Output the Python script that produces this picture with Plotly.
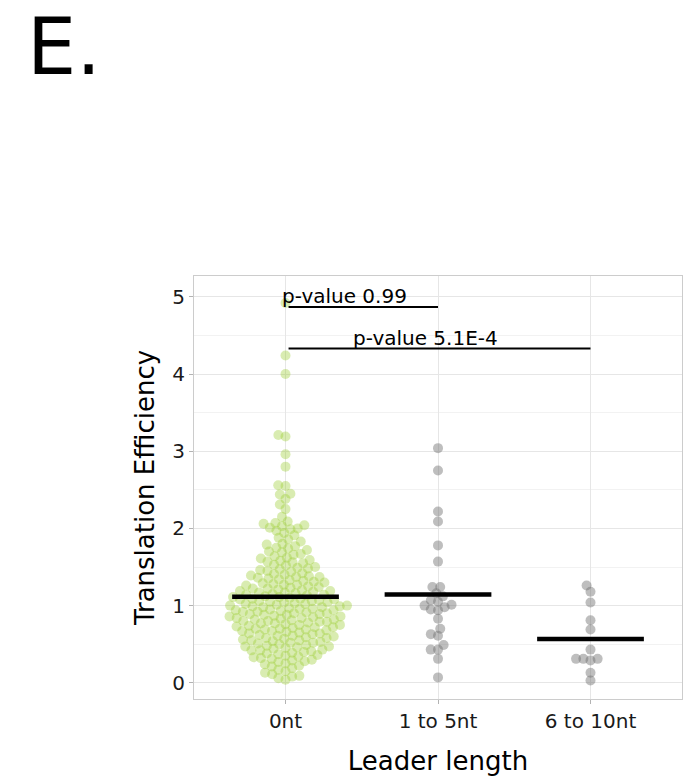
import numpy as np
import plotly.graph_objects as go

# Leader-length groups and their translation efficiency values
categories = ["0nt", "1 to 5nt", "6 to 10nt"]

te_0nt = [
    0.04, 0.06, 0.08, 0.09,
    0.11, 0.13, 0.15, 0.17, 0.19,
    0.21, 0.22, 0.24, 0.25, 0.27, 0.28, 0.29,
    0.30, 0.31, 0.32, 0.33, 0.34, 0.35, 0.36, 0.37, 0.38, 0.39,
    0.40, 0.41, 0.42, 0.42, 0.43, 0.44, 0.45, 0.46, 0.47, 0.47, 0.48, 0.49,
    0.50, 0.51, 0.52, 0.52, 0.53, 0.54, 0.55, 0.55, 0.56, 0.57, 0.58, 0.58, 0.59,
    0.60, 0.61, 0.61, 0.62, 0.63, 0.64, 0.64, 0.65, 0.66, 0.67, 0.67, 0.68, 0.69, 0.69,
    0.70, 0.70, 0.71, 0.72, 0.72, 0.73, 0.74, 0.75, 0.75, 0.76, 0.77, 0.77, 0.78, 0.79, 0.79,
    0.80, 0.80, 0.81, 0.82, 0.82, 0.83, 0.84, 0.84, 0.85, 0.86, 0.86, 0.87, 0.88, 0.88, 0.89, 0.89,
    0.90, 0.90, 0.91, 0.92, 0.92, 0.93, 0.94, 0.94, 0.95, 0.96, 0.96, 0.97, 0.98, 0.98, 0.99, 0.99,
    1.00, 1.00, 1.01, 1.02, 1.02, 1.03, 1.04, 1.04, 1.05, 1.06, 1.06, 1.07, 1.08, 1.08, 1.09, 1.09,
    1.10, 1.11, 1.11, 1.12, 1.13, 1.14, 1.14, 1.15, 1.16, 1.17, 1.17, 1.18, 1.19, 1.19,
    1.20, 1.21, 1.22, 1.22, 1.23, 1.24, 1.25, 1.26, 1.27, 1.27, 1.28, 1.29,
    1.30, 1.31, 1.32, 1.33, 1.34, 1.35, 1.36, 1.37, 1.37, 1.38, 1.39,
    1.40, 1.41, 1.42, 1.44, 1.45, 1.46, 1.47, 1.48, 1.49,
    1.50, 1.52, 1.53, 1.55, 1.56, 1.57, 1.58, 1.59,
    1.61, 1.62, 1.64, 1.66, 1.67, 1.69,
    1.70, 1.72, 1.74, 1.75, 1.77, 1.79,
    1.80, 1.83, 1.86, 1.88,
    1.91, 1.94, 1.97, 1.99,
    2.00, 2.01, 2.03, 2.04, 2.06, 2.07, 2.09,
    2.15, 2.25, 2.31, 2.38, 2.44, 2.45, 2.55, 2.56, 2.80, 2.96,
    3.19, 3.21, 4.00, 4.24, 4.92,
]

te_1to5nt = [
    3.04, 2.75, 2.22, 2.09, 1.78, 1.57, 1.24, 1.24, 1.16, 1.12, 1.07, 1.05, 1.01,
    1.00, 0.98, 0.94, 0.95, 0.83, 0.70, 0.63, 0.61, 0.49, 0.43, 0.43, 0.31, 0.07,
]

te_6to10nt = [
    1.26, 1.18, 1.04, 0.81, 0.69, 0.43, 0.31, 0.31, 0.31, 0.29, 0.13, 0.03,
]

group_values = [te_0nt, te_1to5nt, te_6to10nt]
group_colors = ["rgba(154,205,50,0.38)", "rgba(110,110,110,0.45)", "rgba(110,110,110,0.45)"]

# Pairwise test results drawn as brackets above the swarms
comparisons = [(0, 1), (0, 2)]
comparison_labels = ["p-value 0.99", "p-value 5.1E-4"]
bracket_heights = [4.87, 4.33]
label_x = [0.39, 0.92]

# Axis extents
y_range = [-0.21, 5.27]
x_range = [-0.6, 2.6]

# Figure geometry (pixels)
W, H = 683, 776
M_L, M_R, M_T, M_B = 194, 1, 276, 77
plot_w = W - M_L - M_R
plot_h = H - M_T - M_B
px_per_x = plot_w / (x_range[1] - x_range[0])
px_per_y = plot_h / (y_range[1] - y_range[0])


def swarm_offsets(values, diameter_px):
    """Beeswarm placement: each point goes to the free horizontal slot
    closest to the group centre, given the points already placed."""
    order = np.argsort(values, kind="stable")
    ys = np.asarray(values, dtype=float) * px_per_y
    placed_x, placed_y = [], []
    offsets = np.zeros(len(values))
    d2 = diameter_px ** 2
    for idx in order:
        y = ys[idx]
        cands = [0.0]
        for px, py in zip(placed_x, placed_y):
            dy = abs(py - y)
            if dy < diameter_px:
                dx = np.sqrt(d2 - dy ** 2)
                cands += [px + dx, px - dx]
        cands.sort(key=lambda c: (abs(c), c))
        chosen = cands[-1]
        for c in cands:
            if all((px - c) ** 2 + (py - y) ** 2 >= d2 - 1e-3
                   for px, py in zip(placed_x, placed_y)):
                chosen = c
                break
        offsets[idx] = chosen
        placed_x.append(chosen)
        placed_y.append(y)
    return offsets / px_per_x


fig = go.Figure()

font_family = "DejaVu Sans"

for i, (vals, col) in enumerate(zip(group_values, group_colors)):
    off = swarm_offsets(vals, 7.3)
    fig.add_trace(go.Scatter(
        x=i + off, y=vals, mode="markers",
        marker=dict(size=10, color=col, line=dict(width=0)),
        showlegend=False, hoverinfo="y",
    ))

# Group means as horizontal bars
bar_half = 0.35
for i, vals in enumerate(group_values):
    m = float(np.mean(vals))
    fig.add_trace(go.Scatter(
        x=[i - bar_half, i + bar_half], y=[m, m], mode="lines",
        line=dict(color="black", width=4.5),
        showlegend=False, hoverinfo="skip",
    ))

# Significance brackets
for (a, b), lab, h, lx in zip(comparisons, comparison_labels, bracket_heights, label_x):
    fig.add_trace(go.Scatter(
        x=[a + 0.02, b], y=[h, h], mode="lines",
        line=dict(color="black", width=2),
        showlegend=False, hoverinfo="skip",
    ))
    fig.add_annotation(
        x=lx, y=h, text=lab, showarrow=False,
        xref="x", yref="y", yanchor="bottom", yshift=-3,
        font=dict(family=font_family, size=20, color="black"),
    )

# Panel letter
fig.add_annotation(
    x=(64 - M_L) / plot_w, y=(H - M_B) / plot_h, xref="paper", yref="paper",
    text="E.", showarrow=False, xanchor="center", yanchor="top",
    font=dict(family=font_family, size=78, color="black"),
)

axis_common = dict(
    showline=True, linecolor="#cccccc", linewidth=1, mirror=True,
    ticks="outside", ticklen=4, tickcolor="#b3b3b3",
    gridcolor="#e6e6e6", gridwidth=1, zeroline=False,
    tickfont=dict(family=font_family, size=20, color="#1a1a1a"),
)

fig.update_xaxes(
    range=x_range, tickvals=[0, 1, 2], ticktext=categories,
    title=dict(text="Leader length", font=dict(family=font_family, size=26, color="black"), standoff=21),
    **axis_common,
)
fig.update_yaxes(
    range=y_range, tick0=0, dtick=1,
    minor=dict(dtick=0.5, showgrid=True, gridcolor="#f2f2f2", ticks=""),
    title=dict(text="Translation Efficiency", font=dict(family=font_family, size=26, color="black"), standoff=10),
    **axis_common,
)

fig.update_layout(
    width=W, height=H,
    margin=dict(l=M_L, r=M_R, t=M_T, b=M_B, autoexpand=False),
    paper_bgcolor="white", plot_bgcolor="white",
    font=dict(family=font_family),
)

fig.write_html("out.html")
